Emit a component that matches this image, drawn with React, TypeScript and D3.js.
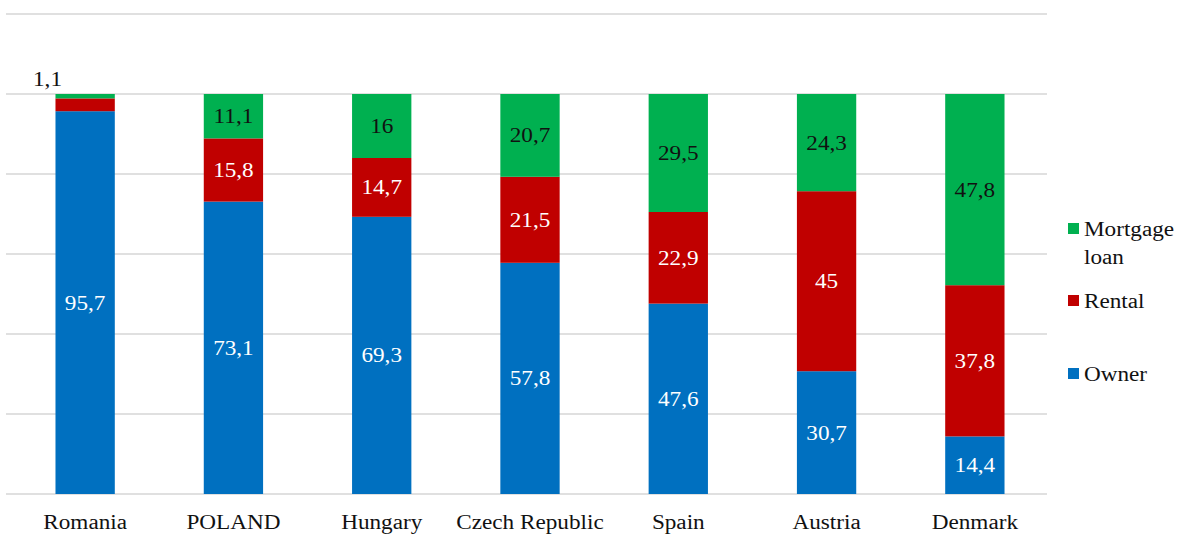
import React from "react";
import * as d3 from "d3";

// Housing tenure structure by country, % of households
const countries = ["Romania", "POLAND", "Hungary", "Czech Republic", "Spain", "Austria", "Denmark"];
const owner = [95.7, 73.1, 69.3, 57.8, 47.6, 30.7, 14.4];
const rental = [3.2, 15.8, 14.7, 21.5, 22.9, 45, 37.8];
const mortgage = [1.1, 11.1, 16, 20.7, 29.5, 24.3, 47.8];
const yTicks = [0, 20, 40, 60, 80, 100, 120];

const seriesColors = ["#0070c0", "#c00000", "#00b050"];
const labelColors = ["#ffffff", "#ffffff", "#111111"];
// Rental share for Romania has no printed label
const showLabel = [
  [true, true, true, true, true, true, true],
  [false, true, true, true, true, true, true],
  [true, true, true, true, true, true, true],
];

const W = 1179;
const H = 535;
const SERIF = "Liberation Serif";
// The typeface is set slightly wide
const STRETCH = 1.16;

const fmt = (v: number) => String(v).replace(".", ",");

function Label(props: { x: number; y: number; size: number; fill: string; anchor?: string; children: React.ReactNode }) {
  return (
    <text
      transform={`translate(${props.x},${props.y}) scale(${STRETCH},1)`}
      fontSize={props.size}
      fill={props.fill}
      textAnchor={props.anchor ?? "middle"}
      fontFamily={SERIF}
      style={{ fontFamily: "'Liberation Serif'" }}
    >
      {props.children}
    </text>
  );
}

export default function App() {
  const x = d3.scaleBand<string>().domain(countries).range([11, 1049]).paddingInner(0.6).paddingOuter(0.3);
  const y = d3.scaleLinear().domain([0, 120]).range([494, 14]);

  const rows = countries.map((c, i) => ({ country: c, owner: owner[i], rental: rental[i], mortgage: mortgage[i] }));
  const layers = d3.stack<any>().keys(["owner", "rental", "mortgage"])(rows);
  const values = [owner, rental, mortgage];

  const bw = x.bandwidth();

  const legend = [
    { idx: 2, lines: ["Mortgage", "loan"], y: 229 },
    { idx: 1, lines: ["Rental"], y: 301 },
    { idx: 0, lines: ["Owner"], y: 374 },
  ];

  return (
    <div>
      <svg width={W} height={H} style={{ position: "absolute", left: 0, top: 0, background: "#fff" }}>
        {yTicks.map((t) => (
          <line key={t} x1={6} x2={1047} y1={y(t)} y2={y(t)} stroke="#e0e0e0" strokeWidth={2} />
        ))}
        {layers.map((layer, si) =>
          layer.map((d, ci) => (
            <rect
              key={si + "-" + ci}
              x={x(countries[ci])!}
              y={y(d[1])}
              width={bw}
              height={y(d[0]) - y(d[1])}
              fill={seriesColors[si]}
            />
          ))
        )}
        {layers.map((layer, si) =>
          layer.map((d, ci) => {
            if (!showLabel[si][ci]) return null;
            const v = values[si][ci];
            const small = y(d[0]) - y(d[1]) < 20;
            if (small) {
              return (
                <Label key={si + "-" + ci} x={x(countries[ci])! - 8} y={y(d[1]) - 8} size={20} fill="#111">
                  {fmt(v)}
                </Label>
              );
            }
            return (
              <Label
                key={si + "-" + ci}
                x={x(countries[ci])! + bw / 2}
                y={(y(d[0]) + y(d[1])) / 2 + 7}
                size={20}
                fill={labelColors[si]}
              >
                {fmt(v)}
              </Label>
            );
          })
        )}
        {countries.map((c) => (
          <Label key={c} x={x(c)! + bw / 2} y={529} size={20} fill="#111">
            {c}
          </Label>
        ))}
        {legend.map((l) => (
          <rect key={"sw" + l.idx} x={1068} y={l.y - 6} width={11} height={11} fill={seriesColors[l.idx]} />
        ))}
        {legend.map((l) =>
          l.lines.map((ln, k) => (
            <Label key={l.idx + "-" + k} x={1084} y={l.y + 7 + k * 28} size={20} fill="#111" anchor="start">
              {ln}
            </Label>
          ))
        )}
      </svg>
    </div>
  );
}
